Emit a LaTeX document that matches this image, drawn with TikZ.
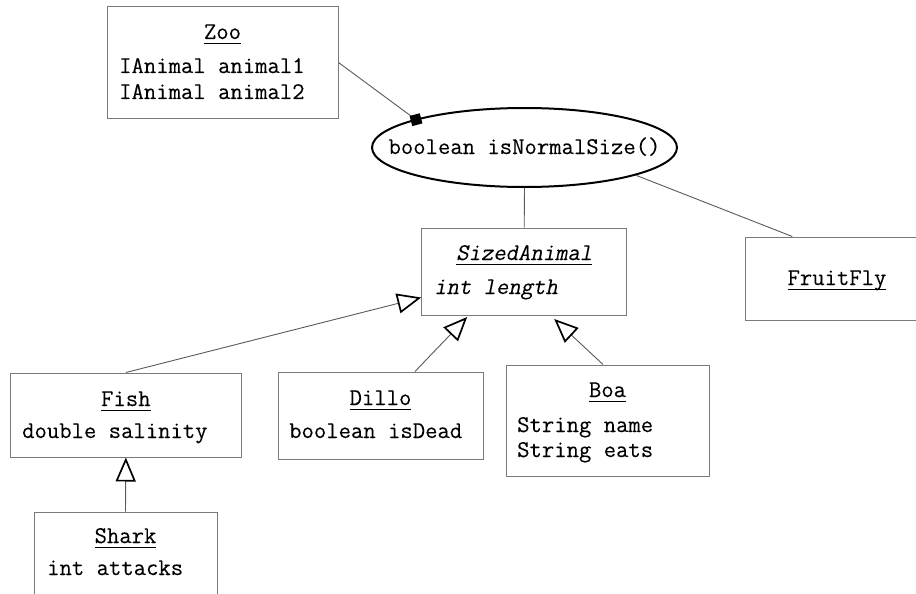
\documentclass[tikz,border=0pt]{standalone}
\usepackage{fontspec}
\setmainfont[FakeBold=0.12]{Latin Modern Mono}
\newfontfamily\oblfont[FakeSlant=0.2,FakeBold=0.12]{Latin Modern Mono}
\usetikzlibrary{shapes.geometric,arrows.meta,calc}
\definecolor{boxgray}{HTML}{7A7A7A}
\definecolor{linegray}{HTML}{5A5A5A}
\newcommand\myul[1]{\setbox0\hbox{#1}\rlap{\rule[-5.2pt]{\wd0}{1.6pt}}\box0}
\begin{document}
\begin{tikzpicture}[x=1pt,y=-1pt,
  umlbox/.style={draw=boxgray, line width=1pt, inner sep=0pt},
  ttl/.style={anchor=base, inner sep=0pt, font=\fontsize{24}{24}\selectfont},
  attr/.style={anchor=base west, inner sep=0pt, font=\fontsize{24}{24}\selectfont},
  conn/.style={draw=linegray, line width=0.9pt},
  inh/.style={conn, -{Triangle[open, length=24pt, width=20pt, line width=1.7pt, color=black]}}
]
\fill[white] (0,0) rectangle (916,594);
\useasboundingbox (0,0) rectangle (916,594);
\clip (0,0) rectangle (916,594);

% boxes
\node[umlbox, minimum width=231pt, minimum height=111pt] (zoo) at (222.5,62.5) {};
\node[draw=black, line width=2pt, ellipse, minimum width=305pt, minimum height=79pt, inner sep=0pt] (ell) at (524.5,147.5) {};
\node[umlbox, minimum width=205pt, minimum height=87.5pt] (sized) at (524.2,271.75) {};
\node[umlbox, minimum width=183.3pt, minimum height=83pt] (fly) at (837.3,278.5) {};
\node[umlbox, minimum width=231.7pt, minimum height=84pt] (fish) at (125.85,415) {};
\node[umlbox, minimum width=205pt, minimum height=87pt] (dillo) at (380.5,415.5) {};
\node[umlbox, minimum width=203pt, minimum height=111pt] (boa) at (607.5,420.5) {};
\node[umlbox, minimum width=183pt, minimum height=85pt] (shark) at (125.5,554.5) {};

% texts
\node[ttl] (zooT) at (222.5,39) {\myul{Zoo}};
\node[attr] (zooA) at (119,73) {IAnimal animal1};
\node[attr] (zooB) at (119,99) {IAnimal animal2};
\node[ttl] (ellT) at (524.5,154) {boolean isNormalSize()};
\node[ttl] (sizedT) at (524.2,260) {\myul{\oblfont SizedAnimal}};
\node[attr] (sizedA) at (434,294) {\oblfont int length};
\node[ttl] (flyT) at (837,285) {\myul{FruitFly}};
\node[ttl] (fishT) at (125.85,406) {\myul{Fish}};
\node[attr] (fishA) at (22,438) {double salinity};
\node[ttl] (dilloT) at (380.5,405) {\myul{Dillo}};
\node[attr] (dilloA) at (289,438) {boolean isDead};
\node[ttl] (boaT) at (607.5,397) {\myul{Boa}};
\node[attr] (boaA) at (517,432) {String name};
\node[attr] (boaB) at (517,457) {String eats};
\node[ttl] (sharkT) at (125.5,543) {\myul{Shark}};
\node[attr] (sharkA) at (47,575) {int attacks};

% connectors
\coordinate (aggpt) at (416,119.7);
\draw[conn] (zoo.east) -- (aggpt);
\node[fill=black, minimum size=10.5pt, inner sep=0pt, rotate=15] (agg) at (aggpt) {};
\draw[conn] (ell.south) -- (sized.north);
\coordinate (flyin) at ($(fly.north)+(-45,0)$);
\draw[conn] (ell.-14) -- (flyin);

\coordinate (fishtip) at ($(sized.south west)+(0,-18.5)$);
\draw[inh] (fish.north) -- (fishtip);
\coordinate (dillofrom) at ($(dillo.north)+(34.5,0)$);
\coordinate (dillotip) at ($(sized.south)+(-57,1)$);
\draw[inh] (dillofrom) -- (dillotip);
\coordinate (boafrom) at ($(boa.north)+(-4.5,0)$);
\coordinate (boatip) at ($(sized.south)+(30,3)$);
\draw[inh] (boafrom) -- (boatip);
\draw[inh] (shark.north) -- (fish.south);
\end{tikzpicture}
\end{document}
